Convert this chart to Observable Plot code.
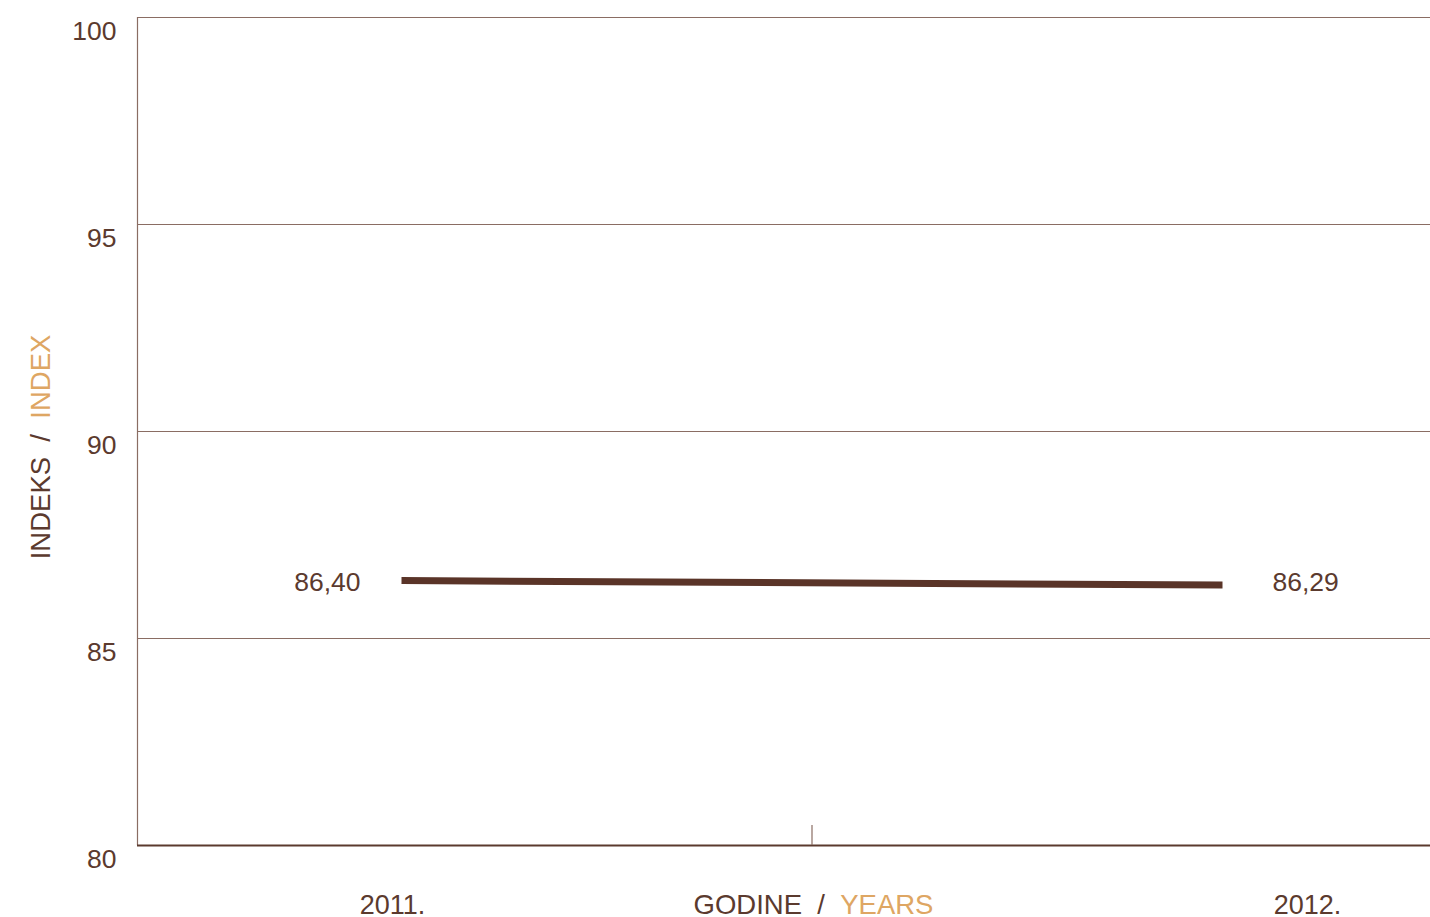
<!DOCTYPE html>
<html>
<head>
<meta charset="utf-8">
<script src="https://cdn.jsdelivr.net/npm/d3@7"></script>
<script src="https://cdn.jsdelivr.net/npm/@observablehq/plot@0.6"></script>
<style>
  html, body { margin: 0; padding: 0; background: #fff; }
  #chart svg { display: block; }
</style>
</head>
<body>
<div id="chart"></div>
<script>
// Index values by year
const years = [2011, 2012];
const values = [86.40, 86.29];
const yearLabels = ["2011.", "2012."];
const valueLabels = ["86,40", "86,29"];
const yTicks = [80, 85, 90, 95, 100];

const brown = "#5b3a2e";
const lineBrown = "#5a3428";
const gold = "#dea663";
const grid = "#8a6d63";
const font = "'Liberation Sans', Arial, sans-serif";

const series = years.map((year, i) => ({year, value: values[i], label: valueLabels[i], yearLabel: yearLabels[i]}));

const W = 1430, H = 917;
const mL = 137, mT = 17, mR = 0, mB = 72;
// the two years sit inside the plot with uneven side room
const x0 = years[0] - 264 / 821, x1 = years[1] + 208 / 821;
const midYear = (years[0] + years[1]) / 2;

const chart = Plot.plot({
  width: W,
  height: H,
  marginLeft: mL,
  marginTop: mT,
  marginRight: mR,
  marginBottom: mB,
  style: {fontFamily: font, color: brown, background: "#fff"},
  x: {domain: [x0, x1], axis: null},
  y: {domain: [80, 100], axis: null},
  marks: [
    Plot.gridY(yTicks.filter(d => d > 80), {stroke: grid, strokeOpacity: 1, strokeWidth: 1}),
    Plot.ruleX([x0], {stroke: grid, strokeWidth: 1.2}),
    Plot.ruleY([80], {stroke: brown, strokeWidth: 2}),
    Plot.ruleX([midYear], {y1: 80, y2: 80 + 20 / 41.4, stroke: grid, strokeWidth: 1.2}),
    Plot.axisY(yTicks, {tickSize: 0, tickPadding: 21, dy: 14, fontSize: 26.5, fill: brown, label: null}),
    Plot.line(series, {x: "year", y: "value", stroke: lineBrown, strokeWidth: 7, strokeLinecap: "butt"}),
    Plot.text(series.slice(0, 1), {x: "year", y: "value", text: "label", textAnchor: "end", dx: -41, dy: 2, fontSize: 26.5, fill: brown}),
    Plot.text(series.slice(1), {x: "year", y: "value", text: "label", textAnchor: "start", dx: 50, dy: -3, fontSize: 26.5, fill: brown}),
    Plot.text(series.slice(0, 1), {x: "year", frameAnchor: "bottom", text: "yearLabel", dx: -9, dy: 68, fontSize: 27, fill: brown}),
    Plot.text(series.slice(1), {x: "year", frameAnchor: "bottom", text: "yearLabel", dx: 85, dy: 68, fontSize: 27, fill: brown})
  ]
});

document.getElementById("chart").appendChild(chart);

// Two-coloured axis titles
const svg = d3.select(chart);
const xt = svg.append("text")
  .attr("x", 813.5).attr("y", 914)
  .attr("text-anchor", "middle")
  .attr("font-family", font).attr("font-size", 27.5);
xt.append("tspan").attr("fill", brown).text("GODINE\u00A0\u00A0/\u00A0\u00A0");
xt.append("tspan").attr("fill", gold).text("YEARS");

const yt = svg.append("text")
  .attr("transform", "translate(50,447) rotate(-90)")
  .attr("text-anchor", "middle")
  .attr("font-family", font).attr("font-size", 27.5);
yt.append("tspan").attr("fill", brown).text("INDEKS\u00A0\u00A0/\u00A0\u00A0");
yt.append("tspan").attr("fill", gold).text("INDEX");
</script>
</body>
</html>
